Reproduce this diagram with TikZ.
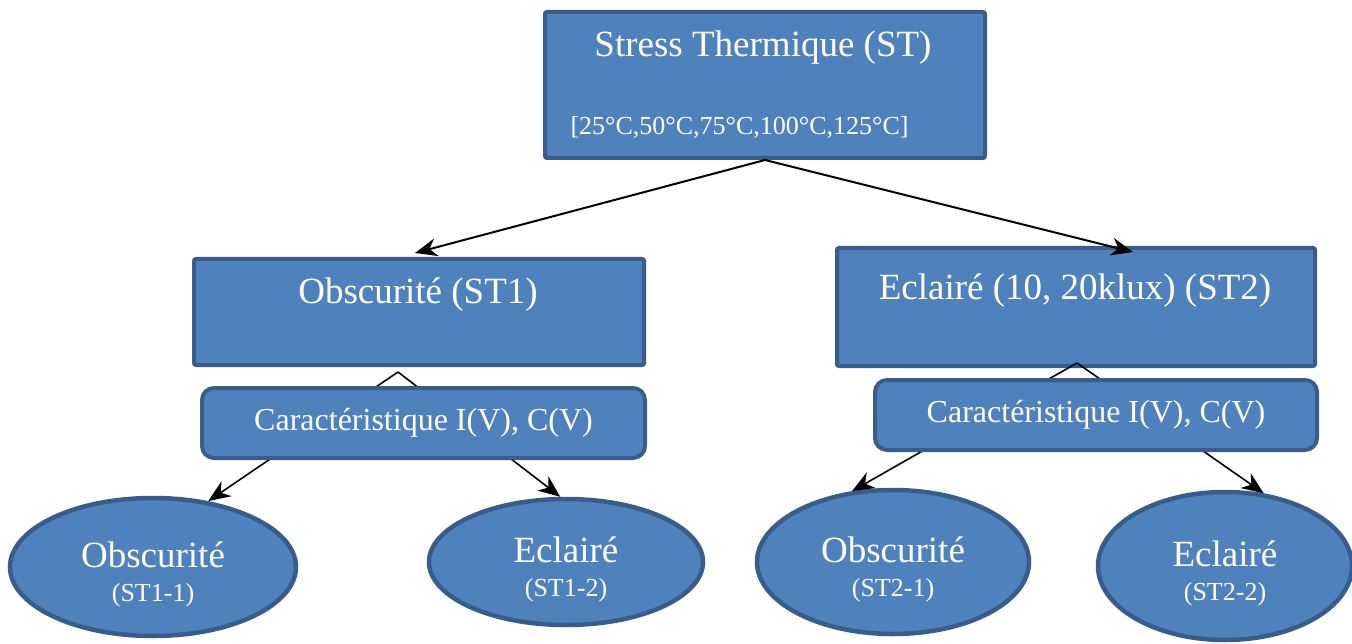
\documentclass[tikz,border=0pt]{standalone}
\usepackage{fontspec}
\setmainfont{Liberation Serif}
\usetikzlibrary{calc,arrows.meta,shapes.geometric}
\definecolor{boxfill}{RGB}{79,129,189}
\definecolor{boxline}{RGB}{56,93,138}
\newcommand\tagfont{\fontsize{26}{28}\selectfont}

\begin{document}
\begin{tikzpicture}[x=1pt,y=-1pt,
    box/.style={draw=boxline,fill=boxfill,line width=4,rounded corners=2,inner sep=0,anchor=north west},
    capbox/.style={box,rounded corners=12,text=white,font=\fontsize{32}{36}\selectfont},
    leaf/.style={ellipse,draw=boxline,fill=boxfill,line width=4.5,inner sep=0},
    leafname/.style={text=white,align=center,font=\fontsize{37}{38}\selectfont},
    title/.style={text=white,anchor=base,font=\fontsize{37}{40}\selectfont},
    arr/.style={-{Stealth[length=22pt,width=18pt,inset=7pt]},line width=1.6}]
          \useasboundingbox (0,0) rectangle (1352,644);
          \node[box,minimum width=440,minimum height=146] (st) at (543,10) {};
          \node[title] (stname) at (763,57) {Stress Thermique (ST)};
          \node[title,anchor=base west,font=\tagfont] (strange) at (567,135) {[25°C,50°C,75°C,100°C,125°C]};
          \node[box,minimum width=450,minimum height=106] (st1) at (192,257) {};
          \node[title] (st1name) at (418,304) {Obscurité (ST1)};
          \node[box,minimum width=478,minimum height=118] (st2) at (835,246) {};
          \node[title] (st2name) at (1075,300) {Eclairé (10, 20klux) (ST2)};
          \node[leaf,minimum width=286,minimum height=138] (st11) at (153,567) {};
          \node[leaf,minimum width=274,minimum height=126] (st12) at (566,562) {};
          \node[leaf,minimum width=272,minimum height=144] (st21) at (893,562) {};
          \node[leaf,minimum width=254,minimum height=148] (st22) at (1225,566) {};
          \node[leafname] (st11name) at ($(st11)+(0,7)$) {Obscurité\\[-4pt]{\tagfont (ST1-1)}};
          \node[leafname] (st12name) at ($(st12)+(0,7)$) {Eclairé\\[-4pt]{\tagfont (ST1-2)}};
          \node[leafname] (st21name) at ($(st21)+(0,7)$) {Obscurité\\[-4pt]{\tagfont (ST2-1)}};
          \node[leafname] (st22name) at ($(st22)+(0,7)$) {Eclairé\\[-4pt]{\tagfont (ST2-2)}};
          \coordinate (fork1) at ($(st1.south)+(-21,5)$);
          \coordinate (fork2) at ($(st2.south)+(1,-5)$);
          \draw[arr,line width=2] (st.south) -- ($(st1.north)+(-4,-4)$);
          \draw[arr,line width=2] (st.south) -- ($(st2.north)+(57,6)$);
          \draw[arr] (fork1) -- (st11.50);
          \draw[arr] (fork1) -- (st12.95);
          \draw[arr] (fork2) -- (st21.120);
          \draw[arr] (fork2) -- (st22.62);
          \node[capbox,minimum width=443,minimum height=70] (char1) at (200,386) {Caractéristique I(V), C(V)};
          \node[capbox,minimum width=442,minimum height=70] (char2) at (873,378) {Caractéristique I(V), C(V)};
\end{tikzpicture}
\end{document}
